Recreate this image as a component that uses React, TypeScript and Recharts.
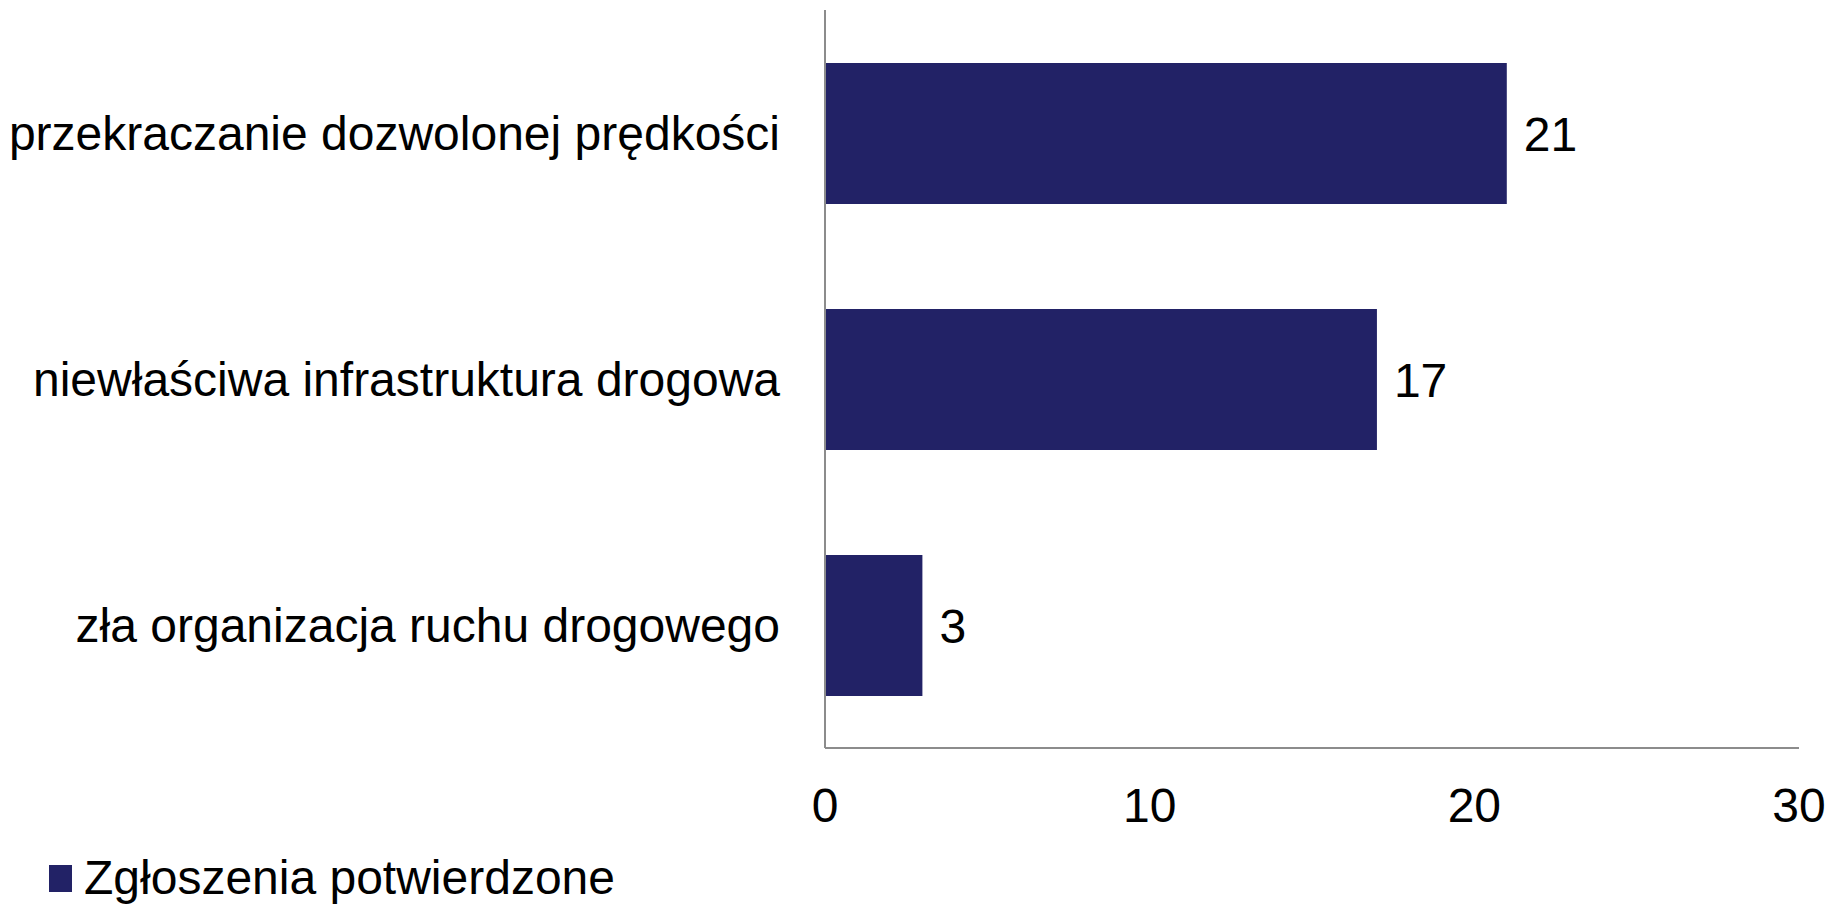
import { BarChart, Bar, XAxis, YAxis, Legend, LabelList } from 'recharts';

const categories = [
  'przekraczanie dozwolonej prędkości',
  'niewłaściwa infrastruktura drogowa',
  'zła organizacja ruchu drogowego',
];
const confirmed = [21, 17, 3];
const xTicks = [0, 10, 20, 30];
const seriesName = 'Zgłoszenia potwierdzone';

const chartData = categories.map((name, i) => ({ name, value: confirmed[i] }));

const FONT = '"Liberation Sans", Arial, sans-serif';
const BAR_COLOR = '#222266';
const AXIS_COLOR = '#8c8c8c';

function LegendContent() {
  return (
    <div style={{ display: 'flex', alignItems: 'center', fontFamily: FONT, fontSize: 48, lineHeight: '52px', color: '#000' }}>
      <span style={{ width: 23, height: 27, background: BAR_COLOR, display: 'inline-block', marginRight: 12 }} />
      <span>{seriesName}</span>
    </div>
  );
}

export default function App() {
  return (
    <div style={{ position: 'absolute', left: 0, top: 0, background: '#fff' }}>
      <BarChart
        width={1830}
        height={905}
        data={chartData}
        layout="vertical"
        margin={{ top: 10, right: 31, bottom: 45, left: 0 }}
      >
        <XAxis
          type="number"
          domain={[0, 30]}
          ticks={xTicks}
          tickLine={false}
          tickSize={0}
          tickMargin={40}
          height={60}
          stroke={AXIS_COLOR}
          strokeWidth={2}
          tick={{ fontSize: 48, fill: '#000', fontFamily: FONT }}
        />
        <YAxis
          type="category"
          dataKey="name"
          width={825}
          tickLine={false}
          tickSize={0}
          tickMargin={45}
          stroke={AXIS_COLOR}
          strokeWidth={2}
          tick={{ fontSize: 48, fill: '#000', fontFamily: FONT }}
        />
        <Legend
          content={<LegendContent />}
          wrapperStyle={{ position: 'absolute', left: 49, top: 852, width: 700 }}
        />
        <Bar dataKey="value" name={seriesName} fill={BAR_COLOR} barSize={141} isAnimationActive={false}>
          <LabelList
            dataKey="value"
            position="right"
            offset={17}
            style={{ fontSize: 48, fill: '#000', fontFamily: FONT }}
          />
        </Bar>
      </BarChart>
    </div>
  );
}
